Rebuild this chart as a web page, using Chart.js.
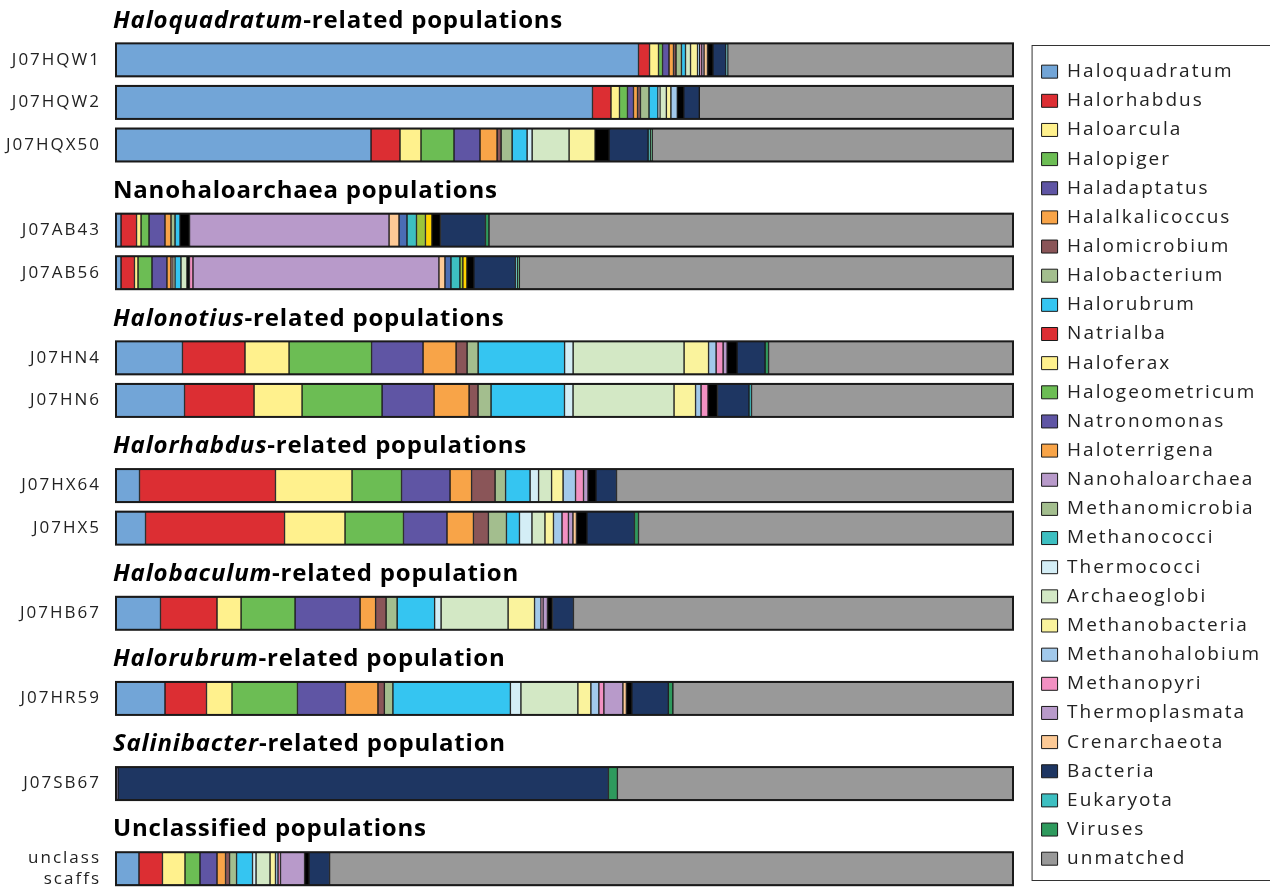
<!DOCTYPE html>
<html>
<head>
<meta charset="utf-8">
<title>Taxonomic affiliation of populations</title>
<script src="https://cdn.jsdelivr.net/npm/chart.js@4.4.1/dist/chart.umd.min.js"></script>
<style>
  html, body { margin: 0; padding: 0; background: #fff; overflow: hidden; }
  #wrap { position: absolute; left: 0; top: -4px; width: 1271px; height: 894px; }
</style>
</head>
<body>
<div id="wrap"><canvas id="taxaChart"></canvas></div>
<script>
// samples, top to bottom
const sampleLabels = ['J07HQW1', 'J07HQW2', 'J07HQX50', 'J07AB43', 'J07AB56', 'J07HN4', 'J07HN6',
  'J07HX64', 'J07HX5', 'J07HB67', 'J07HR59', 'J07SB67', ['unclass', 'scaffs']];

// group headings (italic genus + plain rest) and how many samples each holds
const groupItalic = ['Haloquadratum', '', 'Halonotius', 'Halorhabdus', 'Halobaculum', 'Halorubrum', 'Salinibacter', ''];
const groupText = ['-related populations', 'Nanohaloarchaea populations', '-related populations',
  '-related populations', '-related population', '-related population', '-related population',
  'Unclassified populations'];
const groupSizes = [3, 2, 2, 2, 1, 1, 1, 1];

// % of each sample, same order as sampleLabels
const haloquadratum   = [58.25, 53.12, 28.43, 0.56, 0.56, 7.41, 7.64, 2.62, 3.29, 4.96, 5.46, 0, 2.56];
const halorhabdus     = [1.23, 2.06, 3.23, 1.73, 1.5, 6.97, 7.75, 15.16, 15.5, 6.3, 4.63, 0, 2.62];
const haloarcula      = [1.0, 0.95, 2.34, 0.5, 0.39, 4.91, 5.35, 8.53, 6.74, 2.68, 2.84, 0, 2.51];
const halopiger       = [0.45, 0.89, 3.68, 0.89, 1.56, 9.2, 8.92, 5.52, 6.52, 6.02, 7.3, 0, 1.67];
const haladaptatus    = [0.72, 0.67, 2.9, 1.78, 1.67, 5.74, 5.8, 5.41, 4.85, 7.25, 5.35, 0.22, 1.9];
const halalkalicoccus = [0.5, 0.45, 1.9, 0.67, 0.45, 3.68, 3.9, 2.4, 2.95, 1.73, 3.62, 0, 0.95];
const halomicrobium   = [0.28, 0.33, 0.45, 0, 0.22, 1.23, 1.0, 2.62, 1.67, 1.17, 0.72, 0, 0.45];
const halobacterium   = [0.61, 0.95, 1.23, 0.45, 0.22, 1.23, 1.45, 1.17, 2.01, 1.23, 0.95, 0, 0.78];
const halorubrum      = [0.45, 1.0, 1.67, 0.56, 0.67, 9.64, 8.19, 2.73, 1.45, 4.18, 13.1, 0, 1.78];
const natrialba       = [0, 0, 0, 0, 0, 0, 0, 0, 0, 0, 0, 0, 0];
const haloferax       = [0, 0, 0, 0, 0, 0, 0, 0, 0, 0, 0, 0, 0];
const halogeometricum = [0, 0, 0, 0, 0, 0, 0, 0, 0, 0, 0, 0, 0];
const natronomonas    = [0, 0, 0, 0, 0, 0, 0, 0, 0, 0, 0, 0, 0];
const haloterrigena   = [0, 0, 0, 0, 0, 0, 0, 0, 0, 0, 0, 0, 0];
const paleExtra       = [0, 0, 0, 0, 0.67, 0, 0, 0, 0, 0, 0, 0, 0];
const minorA          = [0, 0, 0, 1.06, 0.28, 0, 0, 0, 0, 0, 0, 0, 0];
const pinkExtra       = [0, 0, 0, 0, 0.39, 0, 0, 0, 0, 0, 0, 0, 0];
const nanohaloarchaea = [0, 0, 0, 22.24, 27.42, 0, 0, 0, 0, 0, 0, 0, 0];
const peachExtra      = [0, 0, 0, 1.11, 0.67, 0, 0, 0, 0, 0, 0, 0, 0];
const blueExtra       = [0, 0, 0, 0.89, 0.67, 0, 0, 0, 0, 0, 0, 0, 0];
const methanomicrobia = [0, 0, 0, 0, 0, 0, 0, 0, 0, 0, 0, 0, 0];
const methanococci    = [0, 0, 0, 1.06, 1.0, 0, 0, 0, 0, 0, 0, 0, 0];
const limeExtra       = [0, 0, 0, 1.0, 0.33, 0, 0, 0, 0, 0, 0, 0, 0];
const goldExtra       = [0, 0, 0, 0.72, 0.45, 0, 0, 0, 0, 0, 0, 0, 0];
const thermococci     = [0, 0.22, 0.56, 0, 0, 0.95, 0.95, 0.95, 1.39, 0.72, 1.17, 0, 0.39];
const archaeoglobi    = [0.56, 0.72, 4.12, 0, 0, 12.37, 11.26, 1.45, 1.45, 7.47, 6.35, 0, 1.56];
const methanobacteria = [0.78, 0.5, 2.9, 0, 0, 2.73, 2.4, 1.28, 0.95, 2.95, 1.45, 0, 0.61];
const methanohalobium = [0.24, 0.72, 0, 0, 0, 0.84, 0.61, 1.39, 0.95, 0.72, 0.89, 0, 0.28];
const methanopyri     = [0.24, 0, 0, 0, 0, 0.78, 0.78, 0.89, 0.72, 0.22, 0.56, 0, 0.28];
const thermoplasmata  = [0.24, 0, 0, 0, 0, 0.45, 0, 0.5, 0.5, 0.5, 2.12, 0, 2.68];
const crenarchaeota   = [0.39, 0, 0, 0, 0, 0, 0, 0, 0.39, 0, 0.39, 0, 0];
const minorB          = [0.61, 0.72, 1.56, 0.95, 0.78, 1.11, 1.06, 0.89, 1.17, 0.56, 0.61, 0, 0.5];
const bacteria        = [1.45, 1.73, 4.35, 5.02, 4.63, 3.12, 3.51, 2.29, 5.3, 2.34, 4.07, 54.68, 2.29];
const eukaryota       = [0.2, 0, 0.25, 0, 0.22, 0, 0.28, 0, 0, 0, 0, 0, 0];
const viruses         = [0, 0, 0.2, 0.39, 0.22, 0.39, 0, 0, 0.45, 0, 0.5, 1.0, 0];
const unmatched       = [31.8, 34.97, 40.23, 58.42, 55.03, 27.25, 29.15, 44.2, 41.75, 49.0, 37.92, 44.1, 76.19];

// stacking order, colours, and which ones the legend leaves out
const taxonNames = ['Haloquadratum', 'Halorhabdus', 'Haloarcula', 'Halopiger', 'Haladaptatus',
  'Halalkalicoccus', 'Halomicrobium', 'Halobacterium', 'Halorubrum', 'Natrialba', 'Haloferax',
  'Halogeometricum', 'Natronomonas', 'Haloterrigena', 'pale', 'minor-a', 'pink', 'Nanohaloarchaea',
  'peach', 'blue', 'Methanomicrobia', 'Methanococci', 'lime', 'gold', 'Thermococci', 'Archaeoglobi',
  'Methanobacteria', 'Methanohalobium', 'Methanopyri', 'Thermoplasmata', 'Crenarchaeota', 'minor-b',
  'Bacteria', 'Eukaryota', 'Viruses', 'unmatched'];
const taxonValues = [haloquadratum, halorhabdus, haloarcula, halopiger, haladaptatus,
  halalkalicoccus, halomicrobium, halobacterium, halorubrum, natrialba, haloferax,
  halogeometricum, natronomonas, haloterrigena, paleExtra, minorA, pinkExtra, nanohaloarchaea,
  peachExtra, blueExtra, methanomicrobia, methanococci, limeExtra, goldExtra, thermococci, archaeoglobi,
  methanobacteria, methanohalobium, methanopyri, thermoplasmata, crenarchaeota, minorB,
  bacteria, eukaryota, viruses, unmatched];
const taxonColors = ['#72A5D7', '#DC2E33', '#FFF18D', '#6CBD54', '#5F55A4',
  '#F8A448', '#8A5558', '#A3BE8E', '#35C5F1', '#DC2E33', '#FFF18D',
  '#6CBD54', '#5F55A4', '#F8A448', '#D2E8C5', '#000000', '#F290C2', '#B89ACA',
  '#FDCA96', '#4A6DB4', '#A3BE8E', '#3DBFC1', '#9CC43C', '#FFD200', '#D4EEF6', '#D3E8C5',
  '#FAF39D', '#A2C9EB', '#F290C2', '#B89ACA', '#FDCA96', '#000000',
  '#1E3662', '#3DBFC1', '#2E9A5D', '#999999'];
const notInLegend = ['pale', 'minor-a', 'pink', 'peach', 'blue', 'lime', 'gold', 'minor-b'];

const fontFamily = '"Open Sans", "Noto Sans", sans-serif';

// build the rows: a blank row for each heading, then its samples
const rowLabels = [];
const headerRows = [];
let si = 0;
groupSizes.forEach(n => {
  headerRows.push(rowLabels.length);
  rowLabels.push('');
  for (let k = 0; k < n; k++) rowLabels.push(sampleLabels[si++]);
});

function toRows(values) {
  let s = 0;
  return rowLabels.map((lab, i) => headerRows.includes(i) ? null : values[s++]);
}

const datasets = taxonNames.map((name, i) => ({
  label: name,
  data: toRows(taxonValues[i]),
  backgroundColor: taxonColors[i],
  borderColor: '#1a1a1a',
  borderWidth: 1,
  borderSkipped: false,
  barThickness: 33
}));

// keeps a gap between the bars and the legend
const legendGap = {
  id: 'legendGap',
  beforeInit(chart) {
    Chart.layouts.addBox(chart, {
      position: 'right',
      weight: 0,
      fullSize: false,
      options: { display: false, stackWeight: 1 },
      left: 0, top: 0, right: 0, bottom: 0, width: 0, height: 0,
      update(maxWidth, maxHeight) {
        const lw = chart.legend ? chart.legend.width : 0;
        this.width = Math.max(0, chart.width - lw - 1013);
        this.height = maxHeight;
      },
      isHorizontal() { return false; },
      draw() {}
    });
  }
};

const decor = {
  id: 'decor',
  beforeLayout(chart) { chart.ctx.letterSpacing = '2px'; },
  beforeDraw(chart) { chart.ctx.letterSpacing = '2px'; },
  afterDatasetsDraw(chart) {
    const {ctx, scales: {x, y}} = chart;
    ctx.save();
    ctx.strokeStyle = '#1a1a1a';
    ctx.lineWidth = 2;
    rowLabels.forEach((lab, i) => {
      if (headerRows.includes(i)) return;
      const yc = y.getPixelForValue(i);
      const x0 = x.getPixelForValue(0);
      const x1 = x.getPixelForValue(100);
      ctx.strokeRect(x0, yc - 16.5, x1 - x0, 33);
    });
    ctx.restore();
  },
  afterDraw(chart) {
    const {ctx, scales: {y}, chartArea} = chart;
    ctx.save();
    ctx.letterSpacing = '0.8px';
    ctx.fillStyle = '#000';
    ctx.textBaseline = 'middle';
    ctx.textAlign = 'left';
    headerRows.forEach((row, g) => {
      const yc = y.getPixelForValue(row) + 3.5;
      let xPos = chartArea.left - 3;
      if (groupItalic[g]) {
        ctx.font = 'italic bold 24px ' + fontFamily;
        ctx.fillText(groupItalic[g], xPos, yc);
        xPos += ctx.measureText(groupItalic[g]).width;
      }
      ctx.font = 'bold 24px ' + fontFamily;
      ctx.fillText(groupText[g], xPos, yc);
    });
    // frame round the legend
    const boxes = chart.legend.legendHitBoxes;
    if (boxes && boxes.length) {
      const first = boxes[0];
      const last = boxes[boxes.length - 1];
      const top = first.top - 17.5;
      const bottom = last.top + last.height + 11.5;
      ctx.strokeStyle = '#333';
      ctx.lineWidth = 1;
      ctx.strokeRect(first.left - 10 + 0.5, Math.round(top) + 0.5, chart.width, Math.round(bottom - top));
    }
    ctx.restore();
  }
};

new Chart(document.getElementById('taxaChart'), {
  type: 'bar',
  data: { labels: rowLabels, datasets: datasets },
  options: {
    indexAxis: 'y',
    responsive: true,
    maintainAspectRatio: false,
    animation: false,
    layout: { padding: 0 },
    scales: {
      x: { stacked: true, min: 0, max: 100, display: false },
      y: {
        stacked: true,
        grid: { display: false, drawTicks: false },
        border: { display: false },
        ticks: {
          autoSkip: false,
          padding: 15,
          color: '#222',
          font: { family: fontFamily, size: 17 }
        },
        afterFit(scale) {
          scale.width = 116;
          scale.paddingTop = 0;
          scale.paddingBottom = 0;
        }
      }
    },
    plugins: {
      tooltip: { enabled: false },
      legend: {
        position: 'right',
        align: 'start',
        title: { display: true, text: '', font: { size: 10 }, padding: { top: 44, bottom: 0 } },
        labels: {
          boxWidth: 16,
          boxHeight: 13,
          padding: 10.15,
          color: '#222',
          font: { family: fontFamily, size: 19 },
          filter: item => !notInLegend.includes(item.text)
        }
      }
    }
  },
  plugins: [legendGap, decor]
});
</script>
</body>
</html>
